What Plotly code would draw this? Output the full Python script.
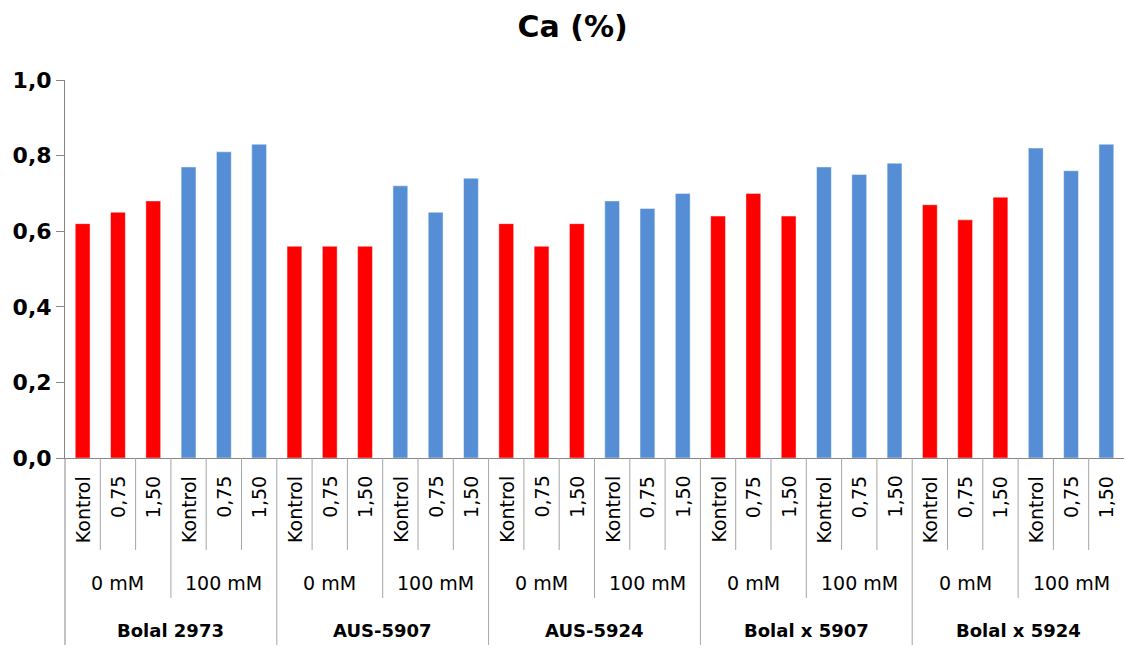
import plotly.graph_objects as go

# ---- data ----
genotypes = ["Bolal 2973", "AUS-5907", "AUS-5924", "Bolal x 5907", "Bolal x 5924"]
salt_levels = ["0 mM", "100 mM"]
treatments = ["Kontrol", "0,75", "1,50"]
ca_values = [
    0.62, 0.65, 0.68, 0.77, 0.81, 0.83,   # Bolal 2973
    0.56, 0.56, 0.56, 0.72, 0.65, 0.74,   # AUS-5907
    0.62, 0.56, 0.62, 0.68, 0.66, 0.70,   # AUS-5924
    0.64, 0.70, 0.64, 0.77, 0.75, 0.78,   # Bolal x 5907
    0.67, 0.63, 0.69, 0.82, 0.76, 0.83,   # Bolal x 5924
]
y_ticks = [0.0, 0.2, 0.4, 0.6, 0.8, 1.0]
salt_colors = {"0 mM": "#FF0000", "100 mM": "#558ED5"}

# ---- build category structure ----
rows = []
for g in genotypes:
    for s in salt_levels:
        for t in treatments:
            rows.append((g, s, t))
n = len(rows)
xpos = list(range(n))
colors = [salt_colors[s] for (_, s, _) in rows]

fig = go.Figure()
fig.add_trace(go.Bar(
    x=xpos, y=ca_values, width=0.42,
    marker=dict(color=colors, line=dict(color="rgba(255,255,255,0.45)", width=1)),
    showlegend=False, hoverinfo="y",
))

annotations = []
shapes = []
lbl_font = dict(family="DejaVu Sans", size=19, color="#000000")
grp_font = dict(family="DejaVu Sans", size=18, color="#000000")

# level 1 labels (rotated)
for i, (_, _, t) in enumerate(rows):
    annotations.append(dict(x=i, y=0, xref="x", yref="paper", text=t, showarrow=False,
                            textangle=-90, xanchor="center", yanchor="top", yshift=-16,
                            font=lbl_font))
# level 2 labels
k = len(treatments)
for j in range(n // k):
    g, s, _ = rows[j * k]
    annotations.append(dict(x=j * k + (k - 1) / 2, y=0, xref="x", yref="paper", text=s,
                            showarrow=False, xanchor="center", yanchor="middle", yshift=-125,
                            font=lbl_font))
# level 3 labels
m = len(treatments) * len(salt_levels)
for j, g in enumerate(genotypes):
    annotations.append(dict(x=j * m + (m - 1) / 2, y=0, xref="x", yref="paper",
                            text="<b>" + g + "</b>", showarrow=False, xanchor="center",
                            yanchor="middle", yshift=-172, font=grp_font))

# separators
line_col = "#A6A6A6"
for i in range(1, n):
    if i % m == 0:
        L = 187
    elif i % k == 0:
        L = 140
    else:
        L = 92
    shapes.append(dict(type="line", xref="x", yref="paper", x0=i - 0.5, x1=i - 0.5,
                       ysizemode="pixel", yanchor=0, y0=0, y1=-L,
                       line=dict(color=line_col, width=1)))
shapes.append(dict(type="line", xref="paper", yref="paper", x0=0, x1=0,
                   ysizemode="pixel", yanchor=0, y0=0, y1=-187,
                   line=dict(color="#868686", width=1)))

fig.update_layout(
    width=1125, height=648,
    margin=dict(l=65, r=1, t=80, b=190),
    paper_bgcolor="white", plot_bgcolor="white",
    separators=",.",
    title=dict(text="<b>Ca (%)</b>", x=0.509, xref="container", xanchor="center",
               y=1 - 26 / 648, yref="container", yanchor="middle",
               font=dict(family="DejaVu Sans", size=30, color="#000000")),
    xaxis=dict(range=[-0.5, n - 0.5], showticklabels=False, ticks="", showgrid=False,
               zeroline=False, showline=True, linecolor="#868686", linewidth=1),
    yaxis=dict(range=[0, 1.0], tickvals=y_ticks, tickformat=".1f", showgrid=False,
               zeroline=False, showline=True, linecolor="#868686", linewidth=1,
               ticks="outside", ticklen=8, tickcolor="#868686",
               tickfont=dict(family="DejaVu Sans", size=22, color="#000000", weight="bold")),
    annotations=annotations, shapes=shapes, bargap=0.58,
)

fig.write_html("out.html", config={"displayModeBar": False},
               post_script="document.body.style.margin='0';document.body.style.overflow='hidden';")
